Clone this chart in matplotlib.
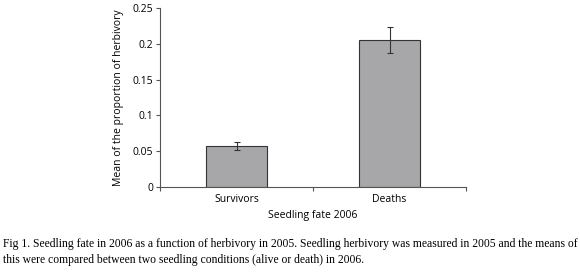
import matplotlib.pyplot as plt
import numpy as np

# data
categories = ["Survivors", "Deaths"]
means = [0.057, 0.206]
errors = [0.005, 0.018]
yticks = [0, 0.05, 0.1, 0.15, 0.2, 0.25]
ytick_labels = ["0", "0.05", "0.1", "0.15", "0.2", "0.25"]

caption = ("Fig 1. Seedling fate in 2006 as a function of herbivory in 2005. Seedling herbivory was measured in 2005 and the means of\n"
           "this were compared between two seedling conditions (alive or death) in 2006.")

plt.rcParams['font.family'] = ['Open Sans', 'DejaVu Sans']

fig = plt.figure(figsize=(5.8, 2.74), dpi=100)
ax = fig.add_axes([160 / 580, 1 - 186.7 / 274, 306 / 580, 178.4 / 274])

x = np.arange(len(categories))
ax.bar(x, means, width=0.4, color="#a7a7a9", edgecolor="#333333", linewidth=0.8,
       yerr=errors, capsize=2.5, error_kw=dict(ecolor="#333333", elinewidth=0.8, capthick=0.8))

ax.set_xlim(-0.5, 1.5)
ax.set_ylim(0, 0.25)
ax.set_xticks([-0.5, 0.5, 1.5])
ax.set_xticklabels([])
ax.set_xticks(x, minor=True)
ax.set_xticklabels(categories, minor=True)
ax.tick_params(axis="x", which="minor", length=0, pad=5, labelsize=7.5)
ax.tick_params(axis="x", which="major", length=3, width=0.8, color="#555555")
ax.set_yticks(yticks)
ax.set_yticklabels(ytick_labels)
ax.tick_params(axis="y", length=3, width=0.8, color="#555555", labelsize=7.5, pad=2)

for side in ["top", "right"]:
    ax.spines[side].set_visible(False)
for side in ["left", "bottom"]:
    ax.spines[side].set_color("#555555")
    ax.spines[side].set_linewidth(0.8)

ax.set_ylabel("Mean of the proportion of herbivory", fontsize=7.5, labelpad=6)
ax.set_xlabel("Seedling fate 2006", fontsize=7.5, labelpad=4)

# figure caption below the chart
fig.text(3 / 580, 1 - 238 / 274, caption, family=["Liberation Serif"], fontsize=8.4,
         va="top", ha="left", linespacing=1.45)

fig.savefig("out.png", dpi=100)
